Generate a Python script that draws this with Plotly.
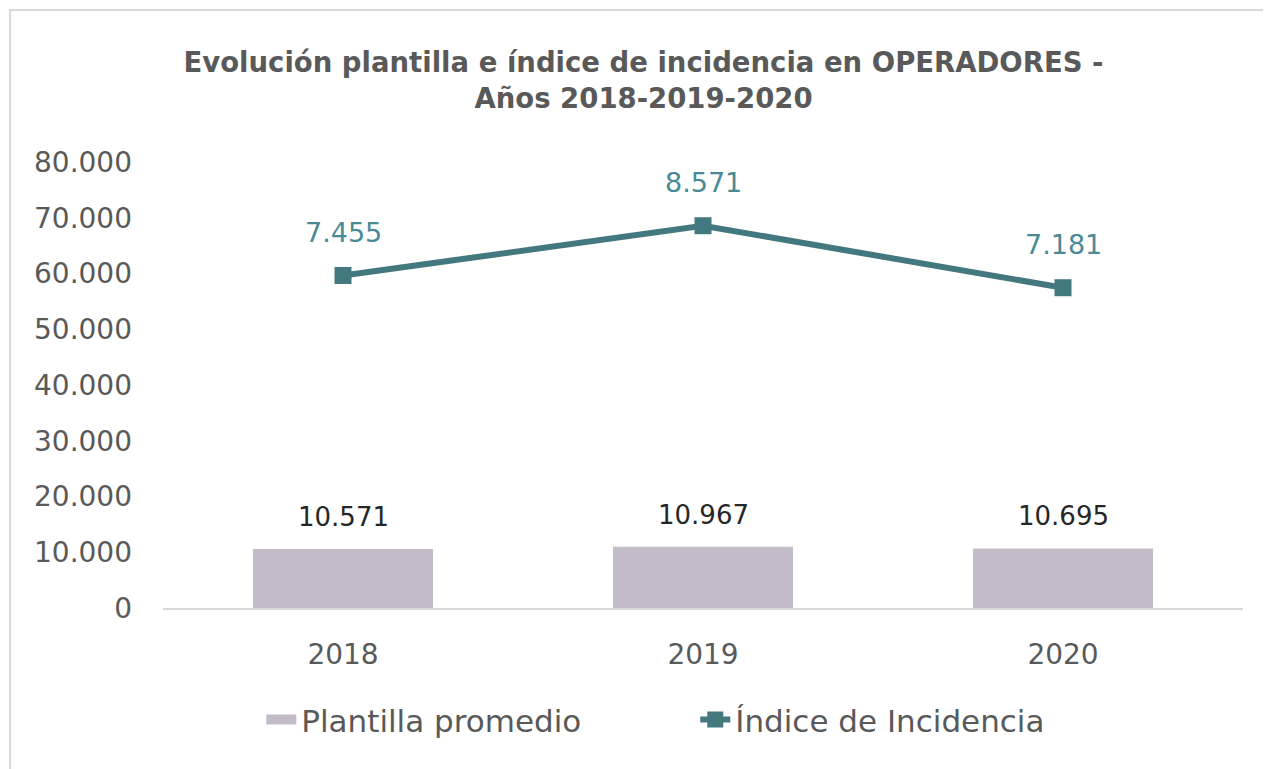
import plotly.graph_objects as go

years = ["2018", "2019", "2020"]
plantilla = [10571, 10967, 10695]
indice = [7455, 8571, 7181]
y_ticks = [0, 10000, 20000, 30000, 40000, 50000, 60000, 70000, 80000]

FONT = "DejaVu Sans"
BAR_COLOR = "#C3BBC7"
LINE_COLOR = "#44787F"
LABEL_TEAL = "#4A8A96"
GREY = "#595959"


def fmt(v):
    return f"{v:,}".replace(",", ".")


fig = go.Figure()
fig.add_trace(go.Bar(
    x=years, y=plantilla, name="Plantilla promedio",
    marker=dict(color=BAR_COLOR, line=dict(width=0)),
    width=0.5, yaxis="y", showlegend=False,
))
# legend swatch for the bars (wide rectangle like the original)
fig.add_trace(go.Scatter(
    x=[None], y=[None], name="Plantilla promedio", mode="lines",
    line=dict(color=BAR_COLOR, width=20), yaxis="y",
))
fig.add_trace(go.Scatter(
    x=years, y=indice, name="Índice de Incidencia",
    mode="lines+markers", yaxis="y2",
    line=dict(color=LINE_COLOR, width=6),
    marker=dict(symbol="square", size=17, color=LINE_COLOR),
))

for i, v in enumerate(plantilla):
    fig.add_annotation(x=i, y=v, xref="x", yref="y", text=fmt(v),
                       showarrow=False, yshift=32, font=dict(family=FONT, size=26, color="#262626"))
for i, v in enumerate(indice):
    fig.add_annotation(x=i, y=v, xref="x", yref="y2", text=fmt(v),
                       showarrow=False, yshift=43, font=dict(family=FONT, size=27, color=LABEL_TEAL))

fig.add_shape(type="rect", xref="paper", yref="paper",
              x0=-153/1080, x1=1.1, y0=-0.45, y1=1 + 152/446,
              line=dict(color="#D9D9D9", width=2), fillcolor="rgba(0,0,0,0)", layer="below")

fig.update_layout(
    width=1271, height=769,
    margin=dict(l=155, r=36, t=154, b=169),
    paper_bgcolor="white", plot_bgcolor="white",
    separators=",.",
    title=dict(
        text="Evolución plantilla e índice de incidencia en OPERADORES -<br>Años 2018-2019-2020",
        x=0.5, xanchor="center", y=0.917, yanchor="middle",
        font=dict(family=FONT, size=27.5, color=GREY, weight="bold"),
    ),
    xaxis=dict(
        type="category", range=[-0.5, 2.5], showgrid=False, showline=True,
        linecolor="#D9D9D9", linewidth=2,
        ticks="", ticklabelstandoff=20, tickfont=dict(family=FONT, size=28, color=GREY),
    ),
    yaxis=dict(
        range=[0, 80000], tickvals=y_ticks, tickformat=",d", showgrid=False,
        zeroline=False, showline=False, ticks="", ticklabelstandoff=30,
        tickfont=dict(family=FONT, size=28, color=GREY),
    ),
    yaxis2=dict(range=[0, 10000], overlaying="y", side="right", visible=False),
    showlegend=True,
    legend=dict(
        orientation="h", x=0.091, xanchor="left", y=-0.251, yanchor="middle",
        font=dict(family=FONT, size=31, color=GREY), itemwidth=30,
        entrywidth=389, traceorder="normal",
    ),
)

fig.write_html("out.html")
